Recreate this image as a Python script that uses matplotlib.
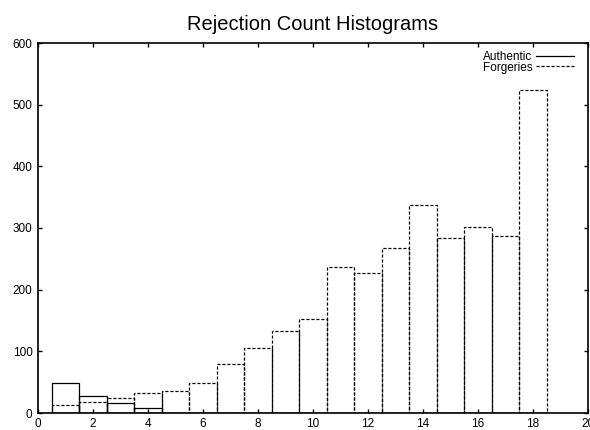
import matplotlib
matplotlib.use('Agg')
import matplotlib.pyplot as plt
from matplotlib.lines import Line2D

# rejection count bins and how many signatures fell in each
bins = list(range(1, 19))
authentic = [48, 28, 17, 8, 0, 0, 0, 0, 0, 0, 0, 0, 0, 0, 0, 0, 0, 0]
forgeries = [13, 18, 25, 33, 35, 48, 80, 105, 133, 152,
             236, 227, 268, 338, 283, 302, 287, 523]

DASH = (0, (2.5, 1.5))


def main():
    plt.rcParams['font.family'] = ['Liberation Sans', 'DejaVu Sans']
    fig = plt.figure(figsize=(5.9, 4.3), dpi=100)
    ax = fig.add_axes([38 / 590, 17 / 430, 550 / 590, 370 / 430])

    ax.bar(bins, authentic, width=1.0, fill=False, edgecolor='black',
           linewidth=0.9)
    ax.bar(bins, forgeries, width=1.0, fill=False, edgecolor='black',
           linewidth=0.9, linestyle=DASH)

    ax.set_xlim(0, 20)
    ax.set_ylim(0, 600)
    ax.set_xticks(range(0, 21, 2))
    ax.set_yticks(range(0, 601, 100))
    ax.tick_params(direction='in', length=3, width=1, top=True, right=True,
                   labelsize=8.5)
    ax.tick_params(axis='x', pad=3.5)
    ax.tick_params(axis='y', pad=4)
    for s in ax.spines.values():
        s.set_linewidth(1.2)

    ax.set_title('Rejection Count Histograms', fontsize=14.5, pad=9)

    handles = [Line2D([], [], color='black', linewidth=0.9),
               Line2D([], [], color='black', linewidth=0.9, linestyle=DASH)]
    ax.legend(handles, ['Authentic', 'Forgeries'], loc='upper right',
              bbox_to_anchor=(0.985, 0.995), frameon=False, markerfirst=False,
              fontsize=8.5, handlelength=3.2, handletextpad=0.3,
              labelspacing=-0.1, borderpad=0)

    fig.savefig('out.png', dpi=100)


if __name__ == '__main__':
    main()
